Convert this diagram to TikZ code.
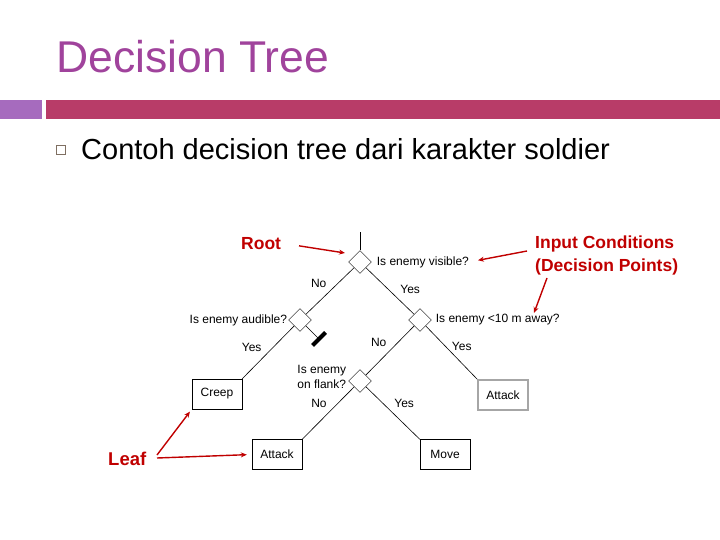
\documentclass[tikz,border=0pt]{standalone}
\usepackage{fontspec}
\setmainfont{Liberation Sans}
\usetikzlibrary{arrows.meta, positioning, shapes.geometric}
\definecolor{ttl}{HTML}{A0439C}
\definecolor{barL}{HTML}{A66BBE}
\definecolor{barR}{HTML}{B83C68}
\definecolor{note}{HTML}{C00000}
\definecolor{bul}{HTML}{7F6F62}

\begin{document}
\begin{tikzpicture}[
    x=1pt, y=-1pt, >=Stealth,
    dec/.style={draw, diamond, inner sep=0pt, minimum width=23pt, minimum height=23pt},
    leaf/.style={draw, minimum width=50pt, minimum height=30pt, inner sep=0pt,
                 font=\fontsize{12}{14}\selectfont},
    q/.style={font=\fontsize{12}{15}\selectfont, inner sep=0pt},
    lbl/.style={font=\fontsize{12}{14}\selectfont},
    edge/.style={line width=0.6pt},
    ann/.style={text=note, font=\fontsize{17.5}{23}\selectfont\bfseries, align=left, inner sep=0pt},
    arr/.style={-{Stealth[length=6pt, width=5pt]}, draw=note, line width=1.4pt},
]
\useasboundingbox (0,0) rectangle (720,540);

% slide header
\node[anchor=base west, inner sep=0pt, text=ttl, font=\fontsize{44.5}{50}\selectfont] (title) at (56,73) {Decision Tree};
\fill[barL] (0,100) rectangle (42,119);
\fill[barR] (46,100) rectangle (720,119);
\draw[bul, line width=1pt] (56,146) rectangle (65,155);
\node[anchor=base west, inner sep=0pt, font=\fontsize{29}{34}\selectfont] (sub) at (81,160) {Contoh decision tree dari karakter soldier};

% decision points
\node[dec] (root) at (360,262) {};
\node[dec] (aud) at (300,320) {};
\node[dec] (near) at (420,320) {};
\node[dec] (flank) at (360,381) {};
\coordinate (rtop) at (360,232);
\coordinate (stub) at (319,339);

\node[q, right=5pt of root] (qvis) {Is enemy visible?};
\node[q, left=1pt of aud] (qaud) {Is enemy audible?};
\node[q, right=4pt of near] (qnear) {Is enemy <10 m away?};
\node[q, left=2pt of flank, yshift=4pt, align=right] (qflank) {Is enemy\\on flank?};

% leaves
\node[leaf] (creep) at (217,394) {Creep};
\node[leaf, draw=gray!70, line width=1.6pt] (atk1) at (503,395) {Attack};
\node[leaf] (atk2) at (277,454.5) {Attack};
\node[leaf] (move) at (445,454.5) {Move};

% branches
\draw[edge] (rtop) -- (root);
\draw[edge] (root) -- node[lbl, above left] {No} (aud);
\draw[edge] (root) -- node[lbl, above right, pos=0.64] {Yes} (near);
\draw[edge] (aud) -- node[lbl, above left, pos=0.56] {Yes} (creep.north east);
\draw[edge] (aud) -- (stub);
\draw[line width=4pt] ([shift={(-6.5,6.5)}]stub) -- ([shift={(6.5,-6.5)}]stub);
\draw[edge] (near) -- node[lbl, right, pos=0.38, xshift=3pt] {Yes} (atk1.north west);
\draw[edge] (near) -- node[lbl, above left] {No} (flank);
\draw[edge] (flank) -- node[lbl, above left, pos=0.46] {No} (atk2.north east);
\draw[edge] (flank) -- node[lbl, above right, pos=0.46] {Yes} (move.north west);

% red notes
\node[ann, anchor=base west] (rootlbl) at (241,249) {Root};
\node[ann, anchor=base west] (inlbl) at (535,271) {Input Conditions\\(Decision Points)};
\node[ann, anchor=base west, font=\fontsize{18.5}{23}\selectfont\bfseries] (leaflbl) at (108,465) {Leaf};

\coordinate (rtip) at (345,253);
\coordinate (itail1) at (527,251);
\coordinate (itail2) at (547,278);
\coordinate (itip2) at (534,313);
\coordinate (ltail1) at (157,455);
\coordinate (ltail2) at (157,458);

\draw[arr, shorten <=18pt] (rootlbl.east) -- (rtip);
\draw[arr, shorten >=9pt] (itail1) -- (qvis.east);
\draw[arr] (itail2) -- (itip2);
\draw[arr, shorten >=3pt] (ltail1) -- (creep.south west);
\draw[arr, shorten >=5pt] (ltail2) -- (atk2.west);
\end{tikzpicture}
\end{document}
